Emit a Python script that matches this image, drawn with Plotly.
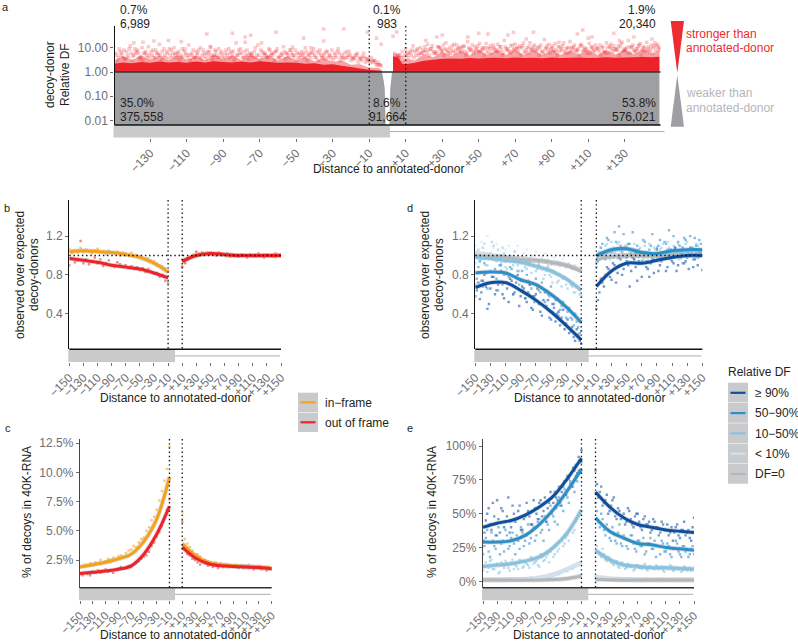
import plotly.graph_objects as go

W, H = 798, 642
FONT = "Liberation Sans"
RED, ORANGE = "#ed2329", "#f7a11a"
GREY_FILL, BAND = "#9d9fa2", "#c9cacc"
BLUE = ["#0b4f9e", "#2b8fc9", "#84c3e2", "#cfe2f1", "#b4b6b8"]
BLUE_DOT = ["rgba(30,90,170,.62)", "rgba(50,145,205,.6)", "rgba(130,195,225,.55)", "rgba(205,225,240,.6)", "rgba(190,190,195,.45)"]
NAMES = ["≥ 90%", "50−90%", "10−50%", "< 10%", "DF=0"]

# ---------- panel a ----------
a_grid_left = list(range(-149, -3, 2))
a_grid_right = list(range(4, 150, 2))
a_left_1 = [6,9,4,7,12,5,8,4,6,11,5,8,14,4,7,5,10,6,4,9,13,5,7,4,8,6,11,5,4,7,6,9,5,16,6,4,8,5,7,13,4,6,9,5,7,4,11,6,8,5,4,7,10,5,6,4,8,5,7,4,6,9,5,4,7,3.5,5,4,6,3,4,3,2.5]
a_left_2 = [3,5,3.5,4,3,6,4,3,5,3.5,4,6,3,5,3.5,4,6,3,4.5,5,3,4,6,3.5,4.5,5,3,7,4,3.5,5,4,3,5,6,4,3.5,5,4,3,6,4,5,3,4,6,3.5,4,5,3,4,6,3,4,5,3,4,3.5,5,3,4,3,3.5,4,3,3.5,2.5,3,2.5,3,2.5,2,2]
a_left_3 = [5,7,8,5,6,9,6,10,7,5,8,6,5,9,6,8,5,7,9,6,5,8,5,10,6,7,5,8,9,5,8,6,7,5,9,7,5,6,10,5,7,5,8,6,9,5,7,5,6,8,6,5,7,6,9,7,5,6,4,8,5,6,4,7,5,4,6,3.5,4,3.5,3,2.5,2]
a_left_4 = [4,6,3.5,9,4.5,7,3.5,6,4,7,4,5,7,4,9,6,4,5,7,4,6,4,8,5,3.5,7,4,5,6,4,4,7,4,8,4,5,6,4,5,8,5,4,6,7,4,5,6,8,4,6,5,4,5,7,4,6,4,7,5,4,7,4,6,5,4,5,3.5,4.5,3.5,2.5,3,2,1.8]
a_right_1 = [6,5,7,9,6,12,8,10,7,14,9,6,11,8,16,10,7,13,9,12,18,8,11,7,10,15,9,13,8,11,20,9,7,14,10,12,8,16,11,9,13,22,8,10,15,7,12,9,18,11,8,14,10,25,9,13,7,11,16,10,12,8,15,9,20,11,7,13,10,17,9,12,14]
a_right_2 = [4,5,4,6,5,7,5,6,8,5,7,6,9,5,7,8,6,10,7,5,8,6,9,7,5,10,6,8,7,5,9,6,8,10,5,7,6,9,8,5,7,10,6,8,5,9,7,6,10,8,5,7,9,6,8,10,5,7,6,9,8,5,7,10,6,8,9,5,7,11,6,8,10]
a_right_3 = [3,4,3,5,7,4,9,6,11,8,12,7,10,13,8,6,14,9,11,7,10,13,8,15,9,7,12,10,14,8,11,7,13,9,12,16,10,8,13,11,7,9,14,12,8,11,16,10,7,13,9,12,8,15,11,9,13,7,10,14,9,12,17,8,11,13,9,15,11,8,13,16,10]
a_right_4 = [5,4,5,4,8,5,6,8,6,9,6,11,7,9,6,12,8,7,11,6,9,7,12,8,10,6,9,7,11,6,8,12,9,7,10,6,11,8,7,10,6,12,9,7,11,8,6,10,9,7,12,8,6,11,7,9,10,6,12,7,9,11,8,6,10,7,12,8,9,7,10,12,8]
a_out_x = [-99,-85,-75,-78,-61,-35,-24,-11,-6,-3.5,-46,-69,-97,-120,-139,-134,-128,-113,-35,-42,-52,-78,30,44,50,55,69,80,66,76,107,104,124,112,94,27,21,145,135,127,3,5]
a_out_y = [37,40,33,28,44,60,60,44,25,14,25,16,10.7,20,16,17,19,18,19,10,10.7,17,34,28,40,37,44,44,34,23,54,37,40,28,17,28,20,23,28,20,30,45]
a_env_x = [-150,-145,-140,-135,-130,-125,-120,-115,-110,-105,-100,-95,-90,-85,-80,-75,-70,-65,-60,-55,-50,-45,-40,-35,-30,-25,-20,-15,-10,-5,-3]
a_dense_left = [2.2,2.5,2.3,2.6,2.4,2.7,2.5,2.6,2.4,2.7,2.5,2.8,2.6,2.5,2.7,2.5,2.8,2.6,2.4,2.5,2.4,2.2,2.3,2.0,2.1,1.8,1.6,1.4,1.25,1.15,1.1]
a_mid_left = [2.8,4.6,3.0,5.0,3.1,4.8,2.9,5.2,3.2,4.7,3.0,5.4,3.2,4.9,3.1,5.2,3.3,5.0,3.0,4.6,2.9,4.4,2.7,3.8,2.6,3.0,2.0,2.1,1.5,1.5,1.2]
a_env_x_r = [3,6,8,10,15,20,25,30,35,40,45,50,55,60,65,70,75,80,85,90,95,100,105,110,115,120,125,130,135,140,145,149]
a_dense_right = [4.5,4.0,2.2,2.1,2.4,2.9,3.2,3.5,3.6,3.5,3.8,3.6,3.8,3.9,3.7,4.0,3.8,3.9,3.7,4.0,3.8,3.9,4.0,3.8,3.9,4.1,3.9,4.0,4.1,4.2,4.1,4.3]
a_mid_right = [6.0,5.0,2.8,3.6,3.0,5.6,4.0,7.0,4.6,7.6,4.8,8.0,5.0,7.8,5.0,8.2,4.9,7.9,5.1,8.4,5.0,8.0,5.2,8.6,5.0,8.2,5.3,8.8,5.4,9.0,5.5,8.5]
a_notch_x = [-3,-2,-1,0,1,2.5,1.5,1,0,-1,-1.5,-2,-3]
a_notch_y = [1,1,1,1,1,1,0.2,0.0065,0.0065,0.0065,0.2,0.4,1]

# ---------- shared x ----------
x_left = list(range(-150, -9, 4))
x_right = list(range(10, 151, 4))
dots_x = x_left + x_right
extra_x_left = list(range(-148, -11, 4))
extra_x_right = list(range(12, 149, 4))
c_left = [-150,-130,-110,-90,-70,-50,-30,-10]
c_right = [10,30,50,70,90,110,130,150]
curve_x = c_left + [None] + c_right
full_ticks = [-150,-130,-110,-90,-70,-50,-30,-10,10,30,50,70,90,110,130,150]
full_labels = ["−150","−130","−110","−90","−70","−50","−30","−10","+10","+30","+50","+70","+90","+110","+130","+150"]
a_ticks = [-130,-110,-90,-70,-50,-30,-10,10,30,50,70,90,110,130]
a_labels = ["−130","−110","−90","−70","−50","−30","−10","+10","+30","+50","+70","+90","+110","+130"]

# ---------- panel b ----------
b_in_curve = [1.04,1.05,1.04,1.03,1.01,0.98,0.92,0.83,None,0.94,1.0,1.02,1.01,1.0,1.0,1.0,1.0]
b_out_curve = [0.97,0.95,0.93,0.90,0.88,0.86,0.82,0.77,None,0.94,1.0,1.02,1.01,1.0,1.0,1.0,1.0]
b_in_dots = [1.07,1.02,1.05,1.03,1.08,1.03,1.06,1.04,1.02,1.05,1.07,1.03,1.04,1.01,1.05,1.03,1.02,1.04,1.00,1.03,1.02,1.01,1.03,1.00,1.00,.99,.98,.97,.97,.95,.94,.92,.90,.89,.87,.84,
 .89,.93,.97,.99,1.01,1.03,1.02,1.03,1.02,1.01,1.03,1.02,1.01,1.02,1.00,1.01,.99,1.01,1.00,1.01,.99,1.00,1.01,.99,1.00,.99,1.01,1.00,.99,1.01,1.00,.99,1.01,.98,1.01,.99]
b_out_dots = [.90,.97,.93,.95,1.15,.92,.96,.91,.94,.98,.92,.96,.89,.92,.95,.90,.88,.93,.91,.88,.90,.87,.89,.86,.88,.85,.87,.83,.86,.83,.81,.82,.78,.80,.74,.72,
 .88,.92,.96,.98,1.00,1.04,1.01,1.03,1.02,1.03,1.01,1.02,1.00,1.03,1.01,1.00,1.02,.99,1.01,1.00,.99,1.01,1.00,.98,1.01,1.00,.99,1.02,1.00,.98,1.01,1.00,.99,1.02,1.00,1.01]

# ---------- panel c ----------
c_in_curve = [1.9,2.1,2.3,2.6,3.0,4.1,6.0,9.6,None,3.9,2.9,2.3,2.1,2.0,1.95,1.9,1.8]
c_out_curve = [1.35,1.45,1.55,1.7,2.0,3.0,4.7,7.1,None,3.6,2.7,2.2,2.0,1.95,1.9,1.85,1.75]
c_in_dots = [1.9,2.0,2.1,2.0,2.2,2.1,2.3,2.2,2.5,2.3,2.4,2.6,2.5,2.7,2.6,2.8,2.9,2.8,3.1,3.3,3.4,3.7,3.6,4.0,4.3,4.4,5.0,5.3,5.9,6.2,6.8,7.6,8.4,9.3,10.3,12.2,
 6.6,4.3,3.9,3.6,3.3,3.0,3.0,2.8,2.5,2.5,2.4,2.3,2.2,2.3,2.1,2.2,2.0,2.1,2.1,2.0,2.0,2.1,1.9,2.0,2.0,1.9,2.1,1.9,1.8,1.9,2.0,1.8,1.8,1.9,1.7,1.8]
c_out_dots = [1.3,1.2,1.4,1.3,1.2,1.5,1.4,1.6,1.4,1.5,1.7,1.5,1.6,1.4,1.7,1.8,1.9,1.8,1.8,2.0,1.9,2.1,2.3,2.4,2.6,2.8,2.9,3.2,3.7,4.0,4.5,4.9,5.4,6.1,6.8,7.7,
 5.8,3.6,3.0,2.9,2.6,2.5,2.3,2.1,2.3,2.2,2.0,2.1,1.9,2.1,1.8,2.0,1.9,2.0,1.9,2.0,1.9,1.9,1.8,2.0,1.8,1.9,1.8,1.9,1.7,1.9,1.8,1.7,1.8,1.6,1.8,1.7]

# ---------- panel d ----------
d_curves = [
 [.67,.72,.72,.64,.54,.42,.28,.13,None,.68,.84,.92,.92,.95,.98,1.0,1.0],
 [.82,.83,.82,.75,.70,.60,.47,.31,None,1.0,1.06,1.07,1.03,1.02,1.05,1.06,1.06],
 [.98,.97,.95,.93,.89,.84,.76,.64,None,.99,1.05,1.07,1.03,1.01,1.03,1.05,1.05],
 [1.03,1.0,.98,.97,.95,.93,.90,.85,None,.96,1.0,1.0,1.0,1.0,1.0,1.0,1.0],
 [1.0,.99,.98,.96,.95,.93,.90,.84,None,.96,.99,1.0,1.0,1.0,1.0,1.0,1.0],
]
d_dots = [
 [.58,.72,.62,.80,.45,.66,.78,.64,.72,.60,.82,.52,.74,.62,.80,.58,.66,.52,.70,.44,.60,.50,.38,.62,.54,.34,.46,.40,.28,.44,.30,.20,.26,.12,.18,.09,
  .45,.62,.72,.80,.86,.75,.90,.82,.96,.86,.94,.68,.98,.88,.94,.78,1.02,.86,.92,.82,1.06,.90,1.0,.84,1.04,.94,1.08,.90,1.02,.92,.98,1.08,.88,1.02,1.04,.85],
 [.70,.88,.74,.92,.66,.84,.96,.76,.90,.70,.94,.78,.86,.68,.84,.74,.62,.80,.70,.58,.76,.64,.72,.52,.60,.68,.50,.56,.44,.52,.36,.46,.34,.40,.26,.22,
  .88,1.02,1.12,.96,1.16,1.04,1.24,1.00,1.10,1.22,.98,1.12,1.24,1.02,1.06,.94,1.14,1.0,1.10,.96,1.08,1.16,1.02,1.12,1.26,1.0,1.08,1.14,.98,1.18,1.04,1.20,.96,1.10,1.16,1.0],
 [.92,1.06,.96,1.12,.90,1.02,1.10,.94,1.0,1.08,.88,.98,.96,1.04,.90,.94,.98,.86,.92,.96,.84,.90,.86,.80,.88,.78,.84,.72,.80,.76,.70,.74,.68,.62,.66,.58,
  .92,1.04,.98,1.10,1.04,1.14,1.02,1.12,1.06,.98,1.10,1.04,1.0,1.06,.98,1.04,1.10,.96,1.02,1.08,.98,1.06,1.12,1.0,1.08,1.04,.98,1.12,1.06,1.02,1.14,1.0,1.08,1.12,1.0,1.06],
 [1.10,.98,1.14,1.02,1.20,.96,1.08,1.12,1.00,.94,1.06,1.10,.98,1.04,1.10,.96,1.02,1.06,.94,1.0,1.04,.92,.98,1.02,.96,.90,.98,.94,.90,.96,.88,.92,.86,.90,.84,.88,
  .94,.98,1.02,1.04,.98,1.03,1.0,.96,1.04,1.0,.98,1.02,.97,1.03,1.0,.96,1.02,1.04,.98,1.0,1.03,.97,1.01,1.04,.98,1.02,1.0,.96,1.03,1.0,.98,1.04,1.0,.97,1.02,1.0],
 [1.02,.98,1.0,.96,1.02,.99,.96,1.0,.97,.99,.95,.98,.96,.94,.98,.95,.96,.93,.96,.94,.95,.92,.94,.93,.90,.93,.91,.92,.89,.91,.88,.90,.87,.88,.85,.84,
  .94,.96,.98,1.0,.99,1.01,1.0,.98,1.0,1.01,.99,1.0,1.0,.99,1.01,1.0,.98,1.0,1.01,.99,1.0,1.0,.99,1.01,1.0,.98,1.0,1.01,.99,1.0,1.0,.99,1.01,1.0,.98,1.0],
]
d_extra_left = [
 [.64,.55,.74,.68,.50,.78,.60,.70,.84,.56,.66,.76,.60,.72,.48,.68,.56,.62,.46,.58,.66,.42,.54,.48,.36,.50,.32,.42,.36,.24,.34,.22,.16,.24,.12],
 [.76,.94,.68,.82,.98,.72,.86,.64,.90,.80,.72,.88,.60,.78,.70,.84,.56,.74,.66,.52,.70,.62,.48,.64,.58,.42,.54,.38,.48,.30,.42,.36,.28,.32,.20],
 [1.02,.94,1.08,.90,1.0,1.14,.96,1.06,.92,1.02,.86,1.0,.90,.96,.84,.98,.88,.92,.82,.94,.86,.88,.76,.84,.80,.72,.82,.74,.68,.78,.66,.70,.62,.68,.60],
]
d_extra_right = [
 [.54,.76,.68,.88,.78,.92,.72,.98,.80,1.0,.90,.84,.96,.74,.92,1.0,.88,.78,.96,1.02,.84,.94,.98,.88,1.06,.92,.84,1.0,1.08,.94,.86,1.04,.96,.90,1.02],
 [.94,1.08,1.0,1.18,1.06,.98,1.14,1.30,1.04,.92,1.12,1.02,.96,1.10,1.0,1.16,.94,1.06,1.22,1.0,1.10,.98,1.14,1.06,.96,1.2,1.04,1.1,.92,1.16,1.02,1.08,1.18,.98,1.12],
 [.98,1.08,1.02,1.12,.96,1.08,1.0,1.14,1.04,1.1,.94,1.06,1.12,1.0,1.08,.96,1.04,1.12,1.0,1.06,.94,1.08,1.02,1.14,.98,1.1,1.04,.96,1.08,1.12,1.0,1.06,.98,1.1,1.04],
]

# ---------- panel e ----------
e_curves = [
 [40,43,45,49,55,63,76,91,None,66,55,47,42,40,38,37,36],
 [29,29,30,34,42,53,67,83,None,47,37,32,28,27,25,24,23],
 [11,12,13,15,18,25,36,53,None,23,16,12,11,10,10,9.5,9],
 [1,1,1.2,1.5,2.5,5,9,14,None,3,2,1.5,1,1,1,1,1],
 [1,1,1,1,1,1.3,2,4,None,1.5,1.2,1,1,1,1,1,1],
]
e_dots = [
 [30,45,54,38,48,60,36,52,44,62,40,50,46,56,38,48,52,42,60,50,58,48,62,54,66,58,62,70,66,74,78,72,84,86,92,97,
  82,62,70,58,64,52,60,48,54,46,50,44,52,42,48,50,40,46,42,44,38,44,40,36,42,38,34,40,36,42,32,38,34,38,30,47],
 [20,32,22,36,26,34,20,30,38,24,32,28,34,24,36,30,42,32,40,34,46,38,48,42,56,48,54,62,56,68,62,74,70,78,82,88,
  58,44,50,38,42,32,40,30,36,28,34,26,30,34,24,30,26,32,22,28,24,30,26,20,28,22,26,18,24,28,20,26,22,18,24,20],
 [8,14,10,16,9,13,7,12,15,10,14,9,11,16,10,14,12,18,13,15,11,18,16,20,22,18,26,24,30,28,34,38,36,44,48,58,
  30,22,18,20,15,17,13,14,11,13,12,10,12,11,9,12,10,11,9,11,10,9,11,10,8,10,9,11,8,10,9,8,10,9,8,10],
 [1,2,1,1,2,1,1,2,1,1,2,1,2,1,2,1,2,3,2,2,3,3,4,3,5,4,6,5,7,8,7,10,9,12,13,18,
  4,3,3,2,2,2,1,2,1,2,1,1,1,2,1,1,1,1,2,1,1,1,1,2,1,1,1,1,1,1,2,1,1,1,1,1],
 [1,1,1,1,1,1,1,1,1,1,1,1,1,1,1,1,1,1,1,1,1,1,1,1.5,1.5,1,2,1.5,2,2,2,3,3,3,4,5,
  2,2,1.5,1.5,1,1,1,1,1,1,1,1,1,1,1,1,1,1,1,1,1,1,1,1,1,1,1,1,1,1,1,1,1,1,1,1],
]
e_extra_left = [
 [36,50,42,58,34,46,54,40,48,36,56,44,52,38,46,58,48,42,54,46,60,52,44,58,52,66,60,56,70,64,76,70,82,80,88],
 [26,38,18,30,24,40,28,22,34,26,36,20,30,40,26,34,28,38,30,44,36,30,44,38,50,44,42,58,52,64,58,70,66,74,80],
 [11,7,15,9,12,6,14,10,13,8,16,12,9,15,11,13,10,17,14,12,20,15,18,14,24,20,22,30,26,32,30,40,38,46,50],
]
e_extra_right = [
 [72,66,56,60,50,56,62,46,52,48,42,54,46,40,50,44,38,48,42,36,46,40,34,44,38,42,36,30,40,34,38,44,36,32,40],
 [52,40,46,34,38,30,36,28,42,26,32,24,34,28,22,30,26,20,28,32,24,18,26,30,22,28,20,24,30,22,18,26,24,20,26],
 [26,20,24,16,18,14,12,15,10,14,9,13,11,8,12,10,9,13,8,11,10,12,9,11,7,10,12,8,10,9,7,11,8,10,9],
]

DOT = "1.4px,2.8px"
ORDER = [3, 4, 2, 1, 0]


def fx(p): return p / W
def fy(p): return 1 - p / H


fig = go.Figure()
shapes, notes = [], []


def T(x, y, text, size=12, color="#231f20", anchor="center", angle=0):
    notes.append(dict(x=fx(x), y=fy(y), xref="paper", yref="paper", text=text, showarrow=False,
                      xanchor=anchor, yanchor="middle", textangle=angle, borderpad=0, borderwidth=0,
                      font=dict(family=FONT, size=size, color=color)))


def R(x0, y0, x1, y1, fill, layer="below"):
    shapes.append(dict(type="rect", xref="paper", yref="paper", x0=fx(x0), x1=fx(x1), y0=fy(y0), y1=fy(y1),
                       fillcolor=fill, line=dict(width=0), layer=layer))


def L(x0, y0, x1, y1, color, width=1, dash="solid"):
    shapes.append(dict(type="line", xref="paper", yref="paper", x0=fx(x0), x1=fx(x1), y0=fy(y0), y1=fy(y1),
                       line=dict(color=color, width=width, dash=dash)))


def panel(n, xpx, ypx, band_end, band_bottom, xr, yr, ticks, labels, yticks, yticklabels, ylog=False, ycolor="#111", xsize=12):
    s = "" if n == 1 else str(n)
    fig.layout["xaxis" + s] = dict(domain=[fx(xpx[0]), fx(xpx[1])], range=xr, anchor="free", position=fy(band_bottom),
                                   automargin=False, showgrid=False, zeroline=False, showline=False, ticks="outside", ticklen=3,
                                   tickwidth=1, tickcolor="#6d6e71", tickvals=ticks, ticktext=labels, tickangle=-45,
                                   tickfont=dict(family=FONT, size=xsize, color="#6d6e71"))
    fig.layout["yaxis" + s] = dict(domain=[fy(ypx[1]), fy(ypx[0])], range=yr, anchor="x" + s, type="log" if ylog else "linear",
                                   automargin=False, showgrid=False, zeroline=False, showline=True, linecolor=ycolor, linewidth=1.4,
                                   ticks="outside", ticklen=3, tickwidth=1, tickcolor="#6d6e71",
                                   tickvals=yticks, ticktext=yticklabels,
                                   tickfont=dict(family=FONT, size=12, color="#6d6e71"))
    R(xpx[0] - 1, ypx[1] + 0.5, band_end, band_bottom, BAND)
    L(band_end, (ypx[1] + band_bottom) / 2 + 0.3, xpx[1] + (4 if n == 1 else -1), (ypx[1] + band_bottom) / 2 + 0.3, "#a9acae", 1)
    L(xpx[0], ypx[1], xpx[1], ypx[1], "#111" if ycolor == "#111" else "#333", 1.4)
    for d in (-10, 10):
        px = xpx[0] + (d - xr[0]) / (xr[1] - xr[0]) * (xpx[1] - xpx[0])
        L(px, ypx[0], px, ypx[1], "#111", 1.3, DOT)


def tr(n, **k):
    s = "" if n == 1 else str(n)
    fig.add_trace(go.Scatter(xaxis="x" + s, yaxis="y" + s, showlegend=False, hoverinfo="skip", **k))


# ------ panel a
panel(1, (114.5, 660.5), (26, 125), 390, 137.5, [-149.6, 149.6], [-2.186, 1.90], a_ticks, a_labels,
      [0.01, 0.1, 1, 10], ["0.01", "0.10", "1.00", "10.00"], ylog=True)
tr(1, x=[-149.6, 149, 149, -149.6], y=[0.0065, 0.0065, 1, 1], mode="none", fill="toself", fillcolor=GREY_FILL)
tr(1, x=a_notch_x, y=a_notch_y, mode="none", fill="toself", fillcolor="#ffffff")
SQ = dict(symbol="square", size=3.6, color="rgba(237,35,41,.24)", line=dict(width=0))
for grid, vals, off in ((a_grid_left, a_left_1, 0), (a_grid_left, a_left_2, 1), (a_grid_left, a_left_3, .5), (a_grid_left, a_left_4, 1.5),
                        (a_grid_right, a_right_1, 0), (a_grid_right, a_right_2, 1), (a_grid_right, a_right_3, .5), (a_grid_right, a_right_4, 1.5)):
    tr(1, x=[g + off for g in grid[:len(vals)]], y=vals, mode="markers", marker=SQ)
tr(1, x=a_out_x, y=a_out_y, mode="markers", marker=SQ)
for xs, vals, col in ((a_env_x, a_mid_left, "rgba(237,35,41,.42)"), (a_env_x, a_dense_left, RED),
                      (a_env_x_r, a_mid_right, "rgba(237,35,41,.42)"), (a_env_x_r, a_dense_right, RED)):
    tr(1, x=xs + xs[::-1], y=vals + [1] * len(xs), mode="none", fill="toself", fillcolor=col)
L(114.5, 72, 660.5, 72, "#333", 1.3)


# ------ series panels
def small(n, curves, dots, cols, dotcols, extra=None, wid=3):
    for v, c in zip(dots, dotcols):
        tr(n, x=dots_x[:len(v)], y=v, mode="markers", marker=dict(symbol="square", size=2.4, color=c, line=dict(width=0)))
    if extra:
        for vl, vr, c in zip(extra[0], extra[1], BLUE_DOT):
            tr(n, x=extra_x_left[:len(vl)] + extra_x_right[:len(vr)], y=vl[:len(extra_x_left)] + vr[:len(extra_x_right)], mode="markers",
               marker=dict(symbol="square", size=2.4, color=c, line=dict(width=0)))
    for v in curves:
        tr(n, x=curve_x, y=v, mode="lines", line=dict(color="rgba(160,160,165,.35)", width=wid + 1.8, shape="spline"))
    for v, c in zip(curves, cols):
        tr(n, x=curve_x, y=v, mode="lines", line=dict(color=c, width=wid, shape="spline"))


panel(2, (69.3, 281), (200, 349.3), 175, 362, [-150, 150], [0.033, 1.572], full_ticks, full_labels,
      [0.4, 0.8, 1.2], ["0.4", "0.8", "1.2"])
small(2, [b_in_curve, b_out_curve], [b_in_dots, b_out_dots], [ORANGE, RED], ["rgba(247,161,26,.6)", "rgba(237,35,41,.55)"])
L(69.3, 255.5, 281, 255.5, "#111", 1.3, DOT)

panel(3, (80, 271.7), (439, 587.7), 175, 600.3, [-150, 150], [0.128, 12.86], full_ticks, full_labels,
      [2.5, 5, 7.5, 10, 12.5], ["2.5%", "5.0%", "7.5%", "10.0%", "12.5%"], ycolor="#444", xsize=11.5)
small(3, [c_in_curve, c_out_curve], [c_in_dots, c_out_dots], [ORANGE, RED], ["rgba(247,161,26,.6)", "rgba(237,35,41,.55)"])

panel(4, (475.3, 702.3), (200, 349.3), 588.7, 362, [-150, 150], [0.033, 1.572], full_ticks, full_labels,
      [0.4, 0.8, 1.2], ["0.4", "0.8", "1.2"])
small(4, [d_curves[i] for i in ORDER], [d_dots[i] for i in ORDER], [BLUE[i] for i in ORDER], [BLUE_DOT[i] for i in ORDER],
      extra=(d_extra_left, d_extra_right))
L(475.3, 255.5, 702.3, 255.5, "#111", 1.3, DOT)

panel(5, (483, 694), (439, 587.7), 588.3, 600.3, [-150, 150], [-4.73, 105.25], full_ticks, full_labels,
      [0, 25, 50, 75, 100], ["0%", "25%", "50%", "75%", "100%"], ycolor="#444", xsize=11.5)
small(5, [e_curves[i] for i in ORDER], [e_dots[i] for i in ORDER], [BLUE[i] for i in ORDER], [BLUE_DOT[i] for i in ORDER],
      extra=(e_extra_left, e_extra_right))

# ------ annotation counts panel a
T(119.5, 10, "0.7%", anchor="left"); T(119.5, 24, "6,989", anchor="left")
T(387, 10, "0.1%"); T(387, 24, "983")
T(656, 10, "1.9%", anchor="right"); T(656, 24, "20,340", anchor="right")
T(119.5, 103, "35.0%", anchor="left"); T(119.5, 117.5, "375,558", anchor="left")
T(387, 103, "8.6%"); T(387, 117.5, "91,664")
T(656, 103, "53.8%", anchor="right"); T(656, 117.5, "576,021", anchor="right")

# ------ titles
T(50, 75, "decoy-donor", angle=-90); T(65, 75, "Relative DF", angle=-90)
T(388, 169, "Distance to annotated-donor")
T(20, 275, "observed over expected", angle=-90); T(34, 275, "decoy-donors", angle=-90)
T(175, 398, "Distance to annotated-donor")
T(425, 275, "observed over expected", angle=-90); T(439, 275, "decoy-donors", angle=-90)
T(589, 398, "Distance to annotated-donor")
T(27, 512, "% of decoys in 40K-RNA", angle=-90)
T(175.7, 634.5, "Distance to annotated-donor")
T(432, 512, "% of decoys in 40K-RNA", angle=-90)
T(588, 634.5, "Distance to annotated-donor")
for lab, x, y in (("a", 2, 7), ("b", 4, 208), ("c", 5, 428), ("d", 407, 208), ("e", 407, 428)):
    T(x, y, lab, size=11, anchor="left")

# ------ wedge legend
shapes.append(dict(type="path", xref="paper", yref="paper", fillcolor="#ee2b30", line=dict(width=0),
                   path=f"M {fx(670.7)} {fy(21)} L {fx(684)} {fy(21)} L {fx(677.3)} {fy(72.7)} Z"))
shapes.append(dict(type="path", xref="paper", yref="paper", fillcolor=GREY_FILL, line=dict(width=0),
                   path=f"M {fx(670.7)} {fy(126.7)} L {fx(684)} {fy(126.7)} L {fx(677.3)} {fy(75)} Z"))
T(686, 33.5, "stronger than", color="#ee2b30", anchor="left")
T(686, 48, "annotated-donor", color="#ee2b30", anchor="left")
T(686, 93, "weaker than", color="#b4b6b8", anchor="left")
T(686, 107.5, "annotated-donor", color="#b4b6b8", anchor="left")

# ------ frame legend
R(298, 392.7, 318, 412, BAND); R(298, 412.6, 318, 432, BAND)
L(300.5, 402.3, 315.5, 402.3, ORANGE, 2.2); L(300.5, 422.3, 315.5, 422.3, RED, 2.2)
T(324.5, 402.5, "in−frame", anchor="left"); T(324.5, 422.5, "out of frame", anchor="left")

# ------ relative DF legend
T(728, 371.7, "Relative DF", anchor="left")
for i, (nm, c) in enumerate(zip(NAMES, BLUE)):
    y0 = 382.7 + i * 20.3
    R(728, y0, 748, y0 + 19.8, BAND)
    L(730.5, y0 + 10.1, 745.5, y0 + 10.1, c, 2.2)
    T(755, y0 + 10.3, nm, anchor="left")

fig.update_layout(width=W, height=H, margin=dict(l=0, r=0, t=0, b=0), autosize=False,
                  paper_bgcolor="white", plot_bgcolor="rgba(0,0,0,0)", shapes=shapes, annotations=notes,
                  showlegend=False, font=dict(family=FONT))
fig.write_html("out.html", config=dict(displayModeBar=False),
               post_script="document.body.style.margin='0';document.documentElement.style.overflow='hidden';")
